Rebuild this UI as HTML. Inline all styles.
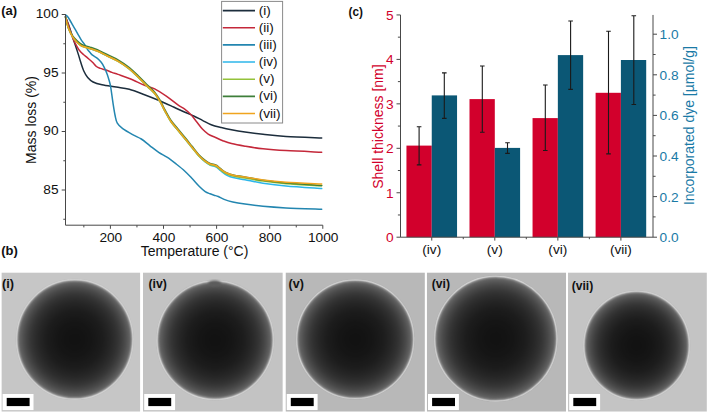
<!DOCTYPE html>
<html><head><meta charset="utf-8"><style>
html,body{margin:0;padding:0;background:#fff;width:708px;height:413px;overflow:hidden;}
svg{display:block;font-family:"Liberation Sans",sans-serif;}
</style></head><body>
<svg width="708" height="413" viewBox="0 0 708 413">
<defs><radialGradient id="sph" cx="0.5" cy="0.5" r="0.5"><stop offset="0.0" stop-color="rgb(18,18,18)"/><stop offset="0.042" stop-color="rgb(18,18,18)"/><stop offset="0.083" stop-color="rgb(18,18,18)"/><stop offset="0.125" stop-color="rgb(19,19,19)"/><stop offset="0.167" stop-color="rgb(19,19,19)"/><stop offset="0.208" stop-color="rgb(20,20,20)"/><stop offset="0.25" stop-color="rgb(21,21,21)"/><stop offset="0.292" stop-color="rgb(21,21,21)"/><stop offset="0.333" stop-color="rgb(23,23,23)"/><stop offset="0.375" stop-color="rgb(24,24,24)"/><stop offset="0.417" stop-color="rgb(26,26,26)"/><stop offset="0.458" stop-color="rgb(27,27,27)"/><stop offset="0.5" stop-color="rgb(29,29,29)"/><stop offset="0.542" stop-color="rgb(32,32,32)"/><stop offset="0.583" stop-color="rgb(35,35,35)"/><stop offset="0.625" stop-color="rgb(38,38,38)"/><stop offset="0.667" stop-color="rgb(42,42,42)"/><stop offset="0.708" stop-color="rgb(46,46,46)"/><stop offset="0.75" stop-color="rgb(51,51,51)"/><stop offset="0.792" stop-color="rgb(57,57,57)"/><stop offset="0.833" stop-color="rgb(65,65,65)"/><stop offset="0.875" stop-color="rgb(73,73,73)"/><stop offset="0.917" stop-color="rgb(84,84,84)"/><stop offset="0.958" stop-color="rgb(96,96,96)"/><stop offset="1.0" stop-color="rgb(110,110,110)"/></radialGradient><filter id="bl" color-interpolation-filters="sRGB" x="-10%" y="-10%" width="120%" height="120%"><feGaussianBlur stdDeviation="0.8"/></filter><filter id="bl2" color-interpolation-filters="sRGB" x="-10%" y="-10%" width="120%" height="120%"><feGaussianBlur stdDeviation="0.55"/></filter></defs>
<g fill="none" stroke-width="1.5" stroke-linejoin="round" stroke-linecap="round">
<path d="M65.50,16.80 C66.00,18.08 67.62,22.05 68.50,24.50 C69.38,26.95 70.10,29.33 70.80,31.50 C71.50,33.67 72.05,35.53 72.70,37.50 C73.35,39.47 74.05,41.37 74.70,43.30 C75.35,45.23 75.97,47.17 76.60,49.10 C77.23,51.03 77.85,52.83 78.50,54.90 C79.15,56.97 79.62,58.82 80.50,61.50 C81.38,64.18 82.60,68.33 83.80,71.00 C85.00,73.67 86.15,75.67 87.70,77.50 C89.25,79.33 90.72,80.78 93.10,82.00 C95.48,83.22 98.15,83.95 102.00,84.80 C105.85,85.65 111.65,86.35 116.20,87.10 C120.75,87.85 124.58,88.03 129.30,89.30 C134.02,90.57 139.53,92.83 144.50,94.70 C149.47,96.57 154.25,98.45 159.10,100.50 C163.95,102.55 169.28,105.03 173.60,107.00 C177.92,108.97 181.65,110.80 185.00,112.30 C188.35,113.80 190.80,114.67 193.70,116.00 C196.60,117.33 199.48,118.85 202.40,120.30 C205.32,121.75 208.05,123.48 211.20,124.70 C214.35,125.92 217.92,126.75 221.30,127.60 C224.68,128.45 227.55,129.07 231.50,129.80 C235.45,130.53 239.75,131.25 245.00,132.00 C250.25,132.75 256.17,133.53 263.00,134.30 C269.83,135.07 276.22,135.98 286.00,136.60 C295.78,137.22 315.75,137.77 321.70,138.00" stroke="#1c2d3c"/>
<path d="M65.50,16.80 C65.92,17.92 67.12,20.93 68.00,23.50 C68.88,26.07 69.85,29.42 70.80,32.20 C71.75,34.98 72.73,37.93 73.70,40.20 C74.67,42.47 75.63,44.08 76.60,45.80 C77.57,47.52 78.37,49.05 79.50,50.50 C80.63,51.95 82.07,53.27 83.40,54.50 C84.73,55.73 85.98,56.60 87.50,57.90 C89.02,59.20 91.02,60.87 92.50,62.30 C93.98,63.73 95.10,65.48 96.40,66.50 C97.70,67.52 98.68,67.82 100.30,68.40 C101.92,68.98 104.17,69.33 106.10,70.00 C108.03,70.67 109.92,71.67 111.90,72.40 C113.88,73.13 114.98,73.35 118.00,74.40 C121.02,75.45 125.58,76.88 130.00,78.70 C134.42,80.52 140.38,83.60 144.50,85.30 C148.62,87.00 151.07,87.08 154.70,88.90 C158.33,90.72 162.43,93.53 166.30,96.20 C170.17,98.87 174.78,102.70 177.90,104.90 C181.02,107.10 182.85,107.80 185.00,109.40 C187.15,111.00 188.87,112.43 190.80,114.50 C192.73,116.57 194.67,119.37 196.60,121.80 C198.53,124.23 200.47,127.05 202.40,129.10 C204.33,131.15 206.02,132.70 208.20,134.10 C210.38,135.50 213.07,136.40 215.50,137.50 C217.93,138.60 220.13,139.68 222.80,140.70 C225.47,141.72 227.80,142.68 231.50,143.60 C235.20,144.52 239.75,145.33 245.00,146.20 C250.25,147.07 256.17,148.07 263.00,148.80 C269.83,149.53 276.22,150.03 286.00,150.60 C295.78,151.17 315.75,151.93 321.70,152.20" stroke="#c4283a"/>
<path d="M65.50,14.80 C65.83,15.08 66.78,15.63 67.50,16.50 C68.22,17.37 68.77,18.28 69.80,20.00 C70.83,21.72 72.40,24.53 73.70,26.80 C75.00,29.07 76.30,31.33 77.60,33.60 C78.90,35.87 80.37,38.63 81.50,40.40 C82.63,42.17 83.43,42.75 84.40,44.20 C85.37,45.65 86.37,47.72 87.30,49.10 C88.23,50.48 89.13,51.48 90.00,52.50 C90.87,53.52 91.27,54.22 92.50,55.20 C93.73,56.18 95.95,57.22 97.40,58.40 C98.85,59.58 100.08,60.85 101.20,62.30 C102.32,63.75 103.12,65.17 104.10,67.10 C105.08,69.03 106.28,71.75 107.10,73.90 C107.92,76.05 108.40,77.80 109.00,80.00 C109.60,82.20 110.05,83.37 110.70,87.10 C111.35,90.83 112.17,97.67 112.90,102.40 C113.63,107.13 114.37,112.05 115.10,115.50 C115.83,118.95 116.03,120.92 117.30,123.10 C118.57,125.28 119.98,126.60 122.70,128.60 C125.42,130.60 130.50,133.37 133.60,135.10 C136.70,136.83 138.57,137.22 141.30,139.00 C144.03,140.78 147.10,143.58 150.00,145.80 C152.90,148.02 155.80,150.37 158.70,152.30 C161.60,154.23 164.48,155.45 167.40,157.40 C170.32,159.35 173.28,161.70 176.20,164.00 C179.12,166.30 182.25,168.78 184.90,171.20 C187.55,173.62 189.68,175.95 192.10,178.50 C194.52,181.05 197.22,184.32 199.40,186.50 C201.58,188.68 203.43,190.38 205.20,191.60 C206.97,192.82 208.53,193.20 210.00,193.80 C211.47,194.40 212.62,194.75 214.00,195.20 C215.38,195.65 216.62,195.80 218.30,196.50 C219.98,197.20 221.68,198.48 224.10,199.40 C226.52,200.32 229.32,201.22 232.80,202.00 C236.28,202.78 239.97,203.38 245.00,204.10 C250.03,204.82 256.17,205.67 263.00,206.30 C269.83,206.93 276.22,207.40 286.00,207.90 C295.78,208.40 315.75,209.07 321.70,209.30" stroke="#2386b0"/>
<path d="M65.50,17.20 C65.68,17.98 66.05,19.92 66.60,21.90 C67.15,23.88 67.78,26.60 68.80,29.10 C69.82,31.60 71.40,34.80 72.70,36.90 C74.00,39.00 75.30,40.33 76.60,41.70 C77.90,43.07 79.37,44.28 80.50,45.10 C81.63,45.92 81.82,46.03 83.40,46.60 C84.98,47.17 87.67,47.75 90.00,48.50 C92.33,49.25 94.55,49.87 97.40,51.10 C100.25,52.33 103.67,54.22 107.10,55.90 C110.53,57.58 114.30,59.03 118.00,61.20 C121.70,63.37 125.85,66.15 129.30,68.90 C132.75,71.65 135.68,74.78 138.70,77.70 C141.72,80.62 144.73,83.75 147.40,86.40 C150.07,89.05 152.52,90.93 154.70,93.60 C156.88,96.27 158.80,99.48 160.50,102.40 C162.20,105.32 163.20,107.95 164.90,111.10 C166.60,114.25 168.52,118.08 170.70,121.30 C172.88,124.52 175.40,127.22 178.00,130.40 C180.60,133.58 183.95,137.52 186.30,140.40 C188.65,143.28 189.92,145.03 192.10,147.70 C194.28,150.37 197.22,154.05 199.40,156.40 C201.58,158.75 203.43,160.38 205.20,161.81 C206.97,163.24 208.62,164.30 210.00,165.00 C211.38,165.70 212.37,165.61 213.50,166.01 C214.63,166.41 215.52,166.53 216.80,167.41 C218.08,168.29 219.50,169.95 221.20,171.27 C222.90,172.59 224.83,174.22 227.00,175.32 C229.17,176.42 231.20,177.10 234.20,177.85 C237.20,178.60 240.20,178.92 245.00,179.81 C249.80,180.70 256.17,182.17 263.00,183.20 C269.83,184.23 276.22,185.11 286.00,186.01 C295.78,186.91 315.75,188.16 321.70,188.59" stroke="#2cb6ea"/>
<path d="M65.50,17.40 C65.68,18.18 66.05,20.12 66.60,22.10 C67.15,24.08 67.78,26.80 68.80,29.30 C69.82,31.80 71.40,35.00 72.70,37.10 C74.00,39.20 75.30,40.53 76.60,41.90 C77.90,43.27 79.37,44.48 80.50,45.30 C81.63,46.12 81.82,46.23 83.40,46.80 C84.98,47.37 87.67,47.95 90.00,48.70 C92.33,49.45 94.55,50.07 97.40,51.30 C100.25,52.53 103.67,54.42 107.10,56.10 C110.53,57.78 114.30,59.23 118.00,61.40 C121.70,63.57 125.85,66.35 129.30,69.10 C132.75,71.85 135.68,74.98 138.70,77.90 C141.72,80.82 144.73,83.95 147.40,86.60 C150.07,89.25 152.52,91.13 154.70,93.80 C156.88,96.47 158.80,99.68 160.50,102.60 C162.20,105.52 163.20,108.15 164.90,111.30 C166.60,114.45 168.52,118.28 170.70,121.50 C172.88,124.72 175.40,127.42 178.00,130.60 C180.60,133.78 183.95,137.72 186.30,140.60 C188.65,143.48 189.92,145.23 192.10,147.90 C194.28,150.57 197.22,154.29 199.40,156.60 C201.58,158.91 203.43,160.40 205.20,161.75 C206.97,163.10 208.62,164.07 210.00,164.70 C211.38,165.33 212.37,165.19 213.50,165.54 C214.63,165.88 215.52,165.96 216.80,166.77 C218.08,167.58 219.50,169.18 221.20,170.41 C222.90,171.64 224.83,173.18 227.00,174.17 C229.17,175.16 231.20,175.71 234.20,176.34 C237.20,176.97 240.20,177.15 245.00,177.95 C249.80,178.75 256.17,180.18 263.00,181.13 C269.83,182.08 276.22,182.88 286.00,183.66 C295.78,184.44 315.75,185.44 321.70,185.80" stroke="#94c23a"/>
<path d="M65.50,16.80 C65.68,17.58 66.05,19.54 66.60,21.50 C67.15,23.46 67.78,26.20 68.80,28.59 C69.82,30.98 71.40,33.88 72.70,35.83 C74.00,37.78 75.30,38.99 76.60,40.30 C77.90,41.61 79.37,42.88 80.50,43.70 C81.63,44.52 81.82,44.63 83.40,45.20 C84.98,45.77 87.67,46.35 90.00,47.10 C92.33,47.85 94.55,48.47 97.40,49.70 C100.25,50.93 103.67,52.82 107.10,54.50 C110.53,56.18 114.30,57.63 118.00,59.80 C121.70,61.97 125.85,64.75 129.30,67.50 C132.75,70.25 135.68,73.38 138.70,76.30 C141.72,79.22 144.73,82.35 147.40,85.00 C150.07,87.65 152.52,89.53 154.70,92.20 C156.88,94.87 158.80,98.08 160.50,101.00 C162.20,103.92 163.20,106.55 164.90,109.70 C166.60,112.85 168.52,116.68 170.70,119.90 C172.88,123.12 175.40,125.82 178.00,129.00 C180.60,132.18 183.95,136.11 186.30,139.00 C188.65,141.89 189.92,143.65 192.10,146.34 C194.28,149.03 197.22,152.83 199.40,155.17 C201.58,157.51 203.43,159.01 205.20,160.38 C206.97,161.75 208.62,162.73 210.00,163.37 C211.38,164.01 212.37,163.88 213.50,164.23 C214.63,164.58 215.52,164.67 216.80,165.49 C218.08,166.31 219.50,167.93 221.20,169.18 C222.90,170.43 224.83,171.97 227.00,172.98 C229.17,173.99 231.20,174.56 234.20,175.22 C237.20,175.88 240.20,176.08 245.00,176.92 C249.80,177.76 256.17,179.24 263.00,180.25 C269.83,181.26 276.22,182.11 286.00,182.97 C295.78,183.83 315.75,185.02 321.70,185.43" stroke="#3e7f3a"/>
<path d="M65.50,17.20 C65.68,17.98 66.05,19.92 66.60,21.90 C67.15,23.88 67.78,26.60 68.80,29.10 C69.82,31.60 71.40,34.79 72.70,36.89 C74.00,38.99 75.30,40.32 76.60,41.68 C77.90,43.04 79.37,44.26 80.50,45.07 C81.63,45.88 81.82,46.00 83.40,46.56 C84.98,47.12 87.67,47.70 90.00,48.44 C92.33,49.18 94.55,49.80 97.40,51.02 C100.25,52.25 103.67,54.12 107.10,55.79 C110.53,57.46 114.30,58.89 118.00,61.05 C121.70,63.20 125.85,65.98 129.30,68.72 C132.75,71.46 135.68,74.58 138.70,77.49 C141.72,80.40 144.73,83.52 147.40,86.16 C150.07,88.80 152.52,90.68 154.70,93.34 C156.88,96.00 158.80,99.21 160.50,102.12 C162.20,105.03 163.20,107.67 164.90,110.81 C166.60,113.95 168.52,117.78 170.70,120.99 C172.88,124.20 175.40,126.89 178.00,130.07 C180.60,133.25 183.95,137.16 186.30,140.04 C188.65,142.91 189.92,144.66 192.10,147.32 C194.28,149.98 197.22,153.70 199.40,156.00 C201.58,158.30 203.43,159.77 205.20,161.10 C206.97,162.43 208.62,163.38 210.00,164.00 C211.38,164.62 212.37,164.47 213.50,164.80 C214.63,165.13 215.52,165.20 216.80,166.00 C218.08,166.80 219.50,168.38 221.20,169.60 C222.90,170.82 224.83,172.33 227.00,173.30 C229.17,174.27 231.20,174.80 234.20,175.40 C237.20,176.00 240.20,176.15 245.00,176.90 C249.80,177.65 256.17,179.02 263.00,179.90 C269.83,180.78 276.22,181.52 286.00,182.20 C295.78,182.88 315.75,183.70 321.70,184.00" stroke="#f0a41e"/>
</g>
<g stroke="#484848" stroke-width="1" fill="none">
<path d="M65.5,14.5 V225.2 H322.80"/>
<path d="M61.7,14.50 H65.5"/>
<path d="M61.7,73.00 H65.5"/>
<path d="M61.7,131.50 H65.5"/>
<path d="M61.7,190.00 H65.5"/>
<path d="M63.3,43.75 H65.5"/>
<path d="M63.3,102.25 H65.5"/>
<path d="M63.3,160.75 H65.5"/>
<path d="M63.3,219.25 H65.5"/>
<path d="M110.40,225.2 V228.79999999999998"/>
<path d="M163.50,225.2 V228.79999999999998"/>
<path d="M216.60,225.2 V228.79999999999998"/>
<path d="M269.70,225.2 V228.79999999999998"/>
<path d="M322.80,225.2 V228.79999999999998"/>
<path d="M83.85,225.2 V227.39999999999998"/>
<path d="M136.95,225.2 V227.39999999999998"/>
<path d="M190.05,225.2 V227.39999999999998"/>
<path d="M243.15,225.2 V227.39999999999998"/>
<path d="M296.25,225.2 V227.39999999999998"/>
</g>
<g font-family="Liberation Sans, sans-serif" font-size="13.7" fill="#111">
<text x="58.6" y="18.40" text-anchor="end">100</text>
<text x="58.6" y="76.90" text-anchor="end">95</text>
<text x="58.6" y="135.40" text-anchor="end">90</text>
<text x="58.6" y="193.90" text-anchor="end">85</text>
<text x="110.80" y="241.8" text-anchor="middle">200</text>
<text x="163.90" y="241.8" text-anchor="middle">400</text>
<text x="217.00" y="241.8" text-anchor="middle">600</text>
<text x="270.10" y="241.8" text-anchor="middle">800</text>
<text x="323.20" y="241.8" text-anchor="middle">1000</text>
</g>
<g font-family="Liberation Sans, sans-serif" font-size="14" fill="#111">
<text x="194.6" y="256.0" text-anchor="middle">Temperature (°C)</text>
<text transform="translate(35.5,120.0) rotate(-90)" text-anchor="middle">Mass loss (%)</text>
</g>
<rect x="221.6" y="1.4" width="61" height="121.6" fill="#fff" stroke="#8a8a8a" stroke-width="1"/>
<path d="M222.8,10.60 H255" stroke="#1c2d3c" stroke-width="1.6"/>
<text x="258.7" y="14.70" font-family="Liberation Sans, sans-serif" font-size="13.6" fill="#111">(i)</text>
<path d="M222.8,27.75 H255" stroke="#c4283a" stroke-width="1.6"/>
<text x="258.7" y="31.85" font-family="Liberation Sans, sans-serif" font-size="13.6" fill="#111">(ii)</text>
<path d="M222.8,44.90 H255" stroke="#2386b0" stroke-width="1.6"/>
<text x="258.7" y="49.00" font-family="Liberation Sans, sans-serif" font-size="13.6" fill="#111">(iii)</text>
<path d="M222.8,62.05 H255" stroke="#2cb6ea" stroke-width="1.6"/>
<text x="258.7" y="66.15" font-family="Liberation Sans, sans-serif" font-size="13.6" fill="#111">(iv)</text>
<path d="M222.8,79.20 H255" stroke="#94c23a" stroke-width="1.6"/>
<text x="258.7" y="83.30" font-family="Liberation Sans, sans-serif" font-size="13.6" fill="#111">(v)</text>
<path d="M222.8,96.35 H255" stroke="#3e7f3a" stroke-width="1.6"/>
<text x="258.7" y="100.45" font-family="Liberation Sans, sans-serif" font-size="13.6" fill="#111">(vi)</text>
<path d="M222.8,113.50 H255" stroke="#f0a41e" stroke-width="1.6"/>
<text x="258.7" y="117.60" font-family="Liberation Sans, sans-serif" font-size="13.6" fill="#111">(vii)</text>
<g font-family="Liberation Sans, sans-serif" font-size="13" font-weight="bold" fill="#111">
<text x="1.2" y="14.8">(a)</text>
<text x="1.2" y="254.9">(b)</text>
<text x="348.6" y="16.2" textLength="14.4" lengthAdjust="spacingAndGlyphs">(c)</text>
</g>
<rect x="406.45" y="145.6" width="25.3" height="91.60" fill="#d2002c"/>
<rect x="431.75" y="95.4" width="25.3" height="141.80" fill="#0b5775"/>
<rect x="469.50" y="99.1" width="25.3" height="138.10" fill="#d2002c"/>
<rect x="494.80" y="147.9" width="25.3" height="89.30" fill="#0b5775"/>
<rect x="532.55" y="118.1" width="25.3" height="119.10" fill="#d2002c"/>
<rect x="557.85" y="55.1" width="25.3" height="182.10" fill="#0b5775"/>
<rect x="595.60" y="92.8" width="25.3" height="144.40" fill="#d2002c"/>
<rect x="620.90" y="60.0" width="25.3" height="177.20" fill="#0b5775"/>
<g stroke="#1a1a1a" stroke-width="1.1" fill="none">
<path d="M419.1,126.7 V164.9 M416.8,126.7 H421.40000000000003 M416.8,164.9 H421.40000000000003"/>
<path d="M444.3,72.9 V118.4 M442.0,72.9 H446.6 M442.0,118.4 H446.6"/>
<path d="M482.3,66 V132.2 M480.0,66 H484.6 M480.0,132.2 H484.6"/>
<path d="M507.5,142.8 V153.4 M505.2,142.8 H509.8 M505.2,153.4 H509.8"/>
<path d="M545.3,85 V150.5 M543.0,85 H547.5999999999999 M543.0,150.5 H547.5999999999999"/>
<path d="M570.6,21 V89.4 M568.3000000000001,21 H572.9 M568.3000000000001,89.4 H572.9"/>
<path d="M608.5,31.3 V153.9 M606.2,31.3 H610.8 M606.2,153.9 H610.8"/>
<path d="M633.8,15.7 V104.5 M631.5,15.7 H636.0999999999999 M631.5,104.5 H636.0999999999999"/>
</g>
<g stroke="#484848" stroke-width="1" fill="none">
<path d="M400.5,14.95 V237.2 H653.0 V14.95"/>
<path d="M396.5,237.20 H400.5"/>
<path d="M396.5,192.75 H400.5"/>
<path d="M396.5,148.30 H400.5"/>
<path d="M396.5,103.85 H400.5"/>
<path d="M396.5,59.40 H400.5"/>
<path d="M396.5,14.95 H400.5"/>
<path d="M397.9,214.97 H400.5"/>
<path d="M397.9,170.52 H400.5"/>
<path d="M397.9,126.07 H400.5"/>
<path d="M397.9,81.62 H400.5"/>
<path d="M397.9,37.17 H400.5"/>
<path d="M653.0,237.20 H657.0"/>
<path d="M653.0,196.60 H657.0"/>
<path d="M653.0,156.00 H657.0"/>
<path d="M653.0,115.40 H657.0"/>
<path d="M653.0,74.80 H657.0"/>
<path d="M653.0,34.20 H657.0"/>
<path d="M653.0,216.90 H655.6"/>
<path d="M653.0,176.30 H655.6"/>
<path d="M653.0,135.70 H655.6"/>
<path d="M653.0,95.10 H655.6"/>
<path d="M653.0,54.50 H655.6"/>
<path d="M431.75,237.2 V240.6"/>
<path d="M494.80,237.2 V240.6"/>
<path d="M557.85,237.2 V240.6"/>
<path d="M620.90,237.2 V240.6"/>
<path d="M463.25,237.2 V239.2"/>
<path d="M526.30,237.2 V239.2"/>
<path d="M589.35,237.2 V239.2"/>
</g>
<g font-family="Liberation Sans, sans-serif" font-size="13.7" fill="#d2002c">
<text x="393.6" y="242.00" text-anchor="end">0</text>
<text x="393.6" y="197.55" text-anchor="end">1</text>
<text x="393.6" y="153.10" text-anchor="end">2</text>
<text x="393.6" y="108.65" text-anchor="end">3</text>
<text x="393.6" y="64.20" text-anchor="end">4</text>
<text x="393.6" y="19.75" text-anchor="end">5</text>
</g>
<g font-family="Liberation Sans, sans-serif" font-size="14" fill="#d2002c">
<text transform="translate(383.3,126.6) rotate(-90)" text-anchor="middle">Shell thickness [nm]</text>
</g>
<g font-family="Liberation Sans, sans-serif" font-size="13.7" fill="#1a7aa6">
<text x="659.6" y="242.10">0.0</text>
<text x="659.6" y="201.50">0.2</text>
<text x="659.6" y="160.90">0.4</text>
<text x="659.6" y="120.30">0.6</text>
<text x="659.6" y="79.70">0.8</text>
<text x="659.6" y="39.10">1.0</text>
</g>
<g font-family="Liberation Sans, sans-serif" font-size="14" fill="#1a7aa6">
<text transform="translate(694.3,125.6) rotate(-90)" text-anchor="middle">Incorporated dye [µmol/g]</text>
</g>
<g font-family="Liberation Sans, sans-serif" font-size="13.7" fill="#111">
<text x="431.75" y="253.8" text-anchor="middle">(iv)</text>
<text x="494.80" y="253.8" text-anchor="middle">(v)</text>
<text x="557.85" y="253.8" text-anchor="middle">(vi)</text>
<text x="620.90" y="253.8" text-anchor="middle">(vii)</text>
</g>
<clipPath id="cp0"><rect x="1.4" y="272.4" width="138.90" height="139.30"/></clipPath>
<g clip-path="url(#cp0)">
<rect x="1.4" y="272.4" width="138.90" height="139.30" fill="#c6c6c6"/>
<ellipse cx="74.75" cy="339.45" rx="57.85" ry="59.35" fill="none" stroke="#e8e8e8" stroke-opacity="0.9" stroke-width="1.5" filter="url(#bl2)"/>
<ellipse cx="74.75" cy="339.45" rx="57.15" ry="58.65" fill="url(#sph)" filter="url(#bl)"/>
</g>
<rect x="2.60" y="394.0" width="30.9" height="16.1" fill="#fff"/>
<rect x="6.70" y="397.9" width="22.9" height="8.2" fill="#000"/>
<text x="2.00" y="287.8" textLength="12.0" lengthAdjust="spacingAndGlyphs" font-family="Liberation Sans, sans-serif" font-size="13" font-weight="bold" fill="#111">(i)</text>
<clipPath id="cp1"><rect x="143.0" y="272.4" width="139.80" height="139.30"/></clipPath>
<g clip-path="url(#cp1)">
<rect x="143.0" y="272.4" width="139.80" height="139.30" fill="#c3c3c3"/>
<ellipse cx="215.2" cy="340.2" rx="57.90" ry="59.00" fill="none" stroke="#e8e8e8" stroke-opacity="0.9" stroke-width="1.5" filter="url(#bl2)"/>
<ellipse cx="215.2" cy="340.2" rx="57.20" ry="58.30" fill="url(#sph)" filter="url(#bl)"/>
<ellipse cx="214.6" cy="283.5" rx="6.5" ry="3.0" fill="rgb(92,92,92)" filter="url(#bl)"/>
</g>
<rect x="144.20" y="394.0" width="30.9" height="16.1" fill="#fff"/>
<rect x="148.30" y="397.9" width="22.9" height="8.2" fill="#000"/>
<text x="148.40" y="287.7" textLength="18.4" lengthAdjust="spacingAndGlyphs" font-family="Liberation Sans, sans-serif" font-size="13" font-weight="bold" fill="#111">(iv)</text>
<clipPath id="cp2"><rect x="285.5" y="272.4" width="139.40" height="139.30"/></clipPath>
<g clip-path="url(#cp2)">
<rect x="285.5" y="272.4" width="139.40" height="139.30" fill="#b8b8b8"/>
<ellipse cx="355.2" cy="339.3" rx="58.30" ry="59.00" fill="none" stroke="#e8e8e8" stroke-opacity="0.9" stroke-width="1.5" filter="url(#bl2)"/>
<ellipse cx="355.2" cy="339.3" rx="57.60" ry="58.30" fill="url(#sph)" filter="url(#bl)"/>
</g>
<rect x="286.70" y="394.0" width="30.9" height="16.1" fill="#fff"/>
<rect x="290.80" y="397.9" width="22.9" height="8.2" fill="#000"/>
<text x="288.50" y="287.7" textLength="15.3" lengthAdjust="spacingAndGlyphs" font-family="Liberation Sans, sans-serif" font-size="13" font-weight="bold" fill="#111">(v)</text>
<clipPath id="cp3"><rect x="426.8" y="272.4" width="139.30" height="139.30"/></clipPath>
<g clip-path="url(#cp3)">
<rect x="426.8" y="272.4" width="139.30" height="139.30" fill="#b8b8b8"/>
<ellipse cx="495.8" cy="338.65" rx="60.90" ry="62.15" fill="none" stroke="#e8e8e8" stroke-opacity="0.9" stroke-width="1.5" filter="url(#bl2)"/>
<ellipse cx="495.8" cy="338.65" rx="60.20" ry="61.45" fill="url(#sph)" filter="url(#bl)"/>
</g>
<rect x="428.00" y="394.0" width="30.9" height="16.1" fill="#fff"/>
<rect x="432.10" y="397.9" width="22.9" height="8.2" fill="#000"/>
<text x="431.80" y="287.7" textLength="18.2" lengthAdjust="spacingAndGlyphs" font-family="Liberation Sans, sans-serif" font-size="13" font-weight="bold" fill="#111">(vi)</text>
<clipPath id="cp4"><rect x="568.0" y="272.4" width="138.90" height="139.30"/></clipPath>
<g clip-path="url(#cp4)">
<rect x="568.0" y="272.4" width="138.90" height="139.30" fill="#c4c4c4"/>
<ellipse cx="636.6" cy="345.5" rx="52.50" ry="54.00" fill="none" stroke="#e8e8e8" stroke-opacity="0.9" stroke-width="1.5" filter="url(#bl2)"/>
<ellipse cx="636.6" cy="345.5" rx="51.80" ry="53.30" fill="url(#sph)" filter="url(#bl)"/>
</g>
<rect x="569.20" y="394.0" width="30.9" height="16.1" fill="#fff"/>
<rect x="573.30" y="397.9" width="22.9" height="8.2" fill="#000"/>
<text x="571.70" y="289.6" textLength="21.6" lengthAdjust="spacingAndGlyphs" font-family="Liberation Sans, sans-serif" font-size="13" font-weight="bold" fill="#111">(vii)</text>
</svg>
</body></html>
